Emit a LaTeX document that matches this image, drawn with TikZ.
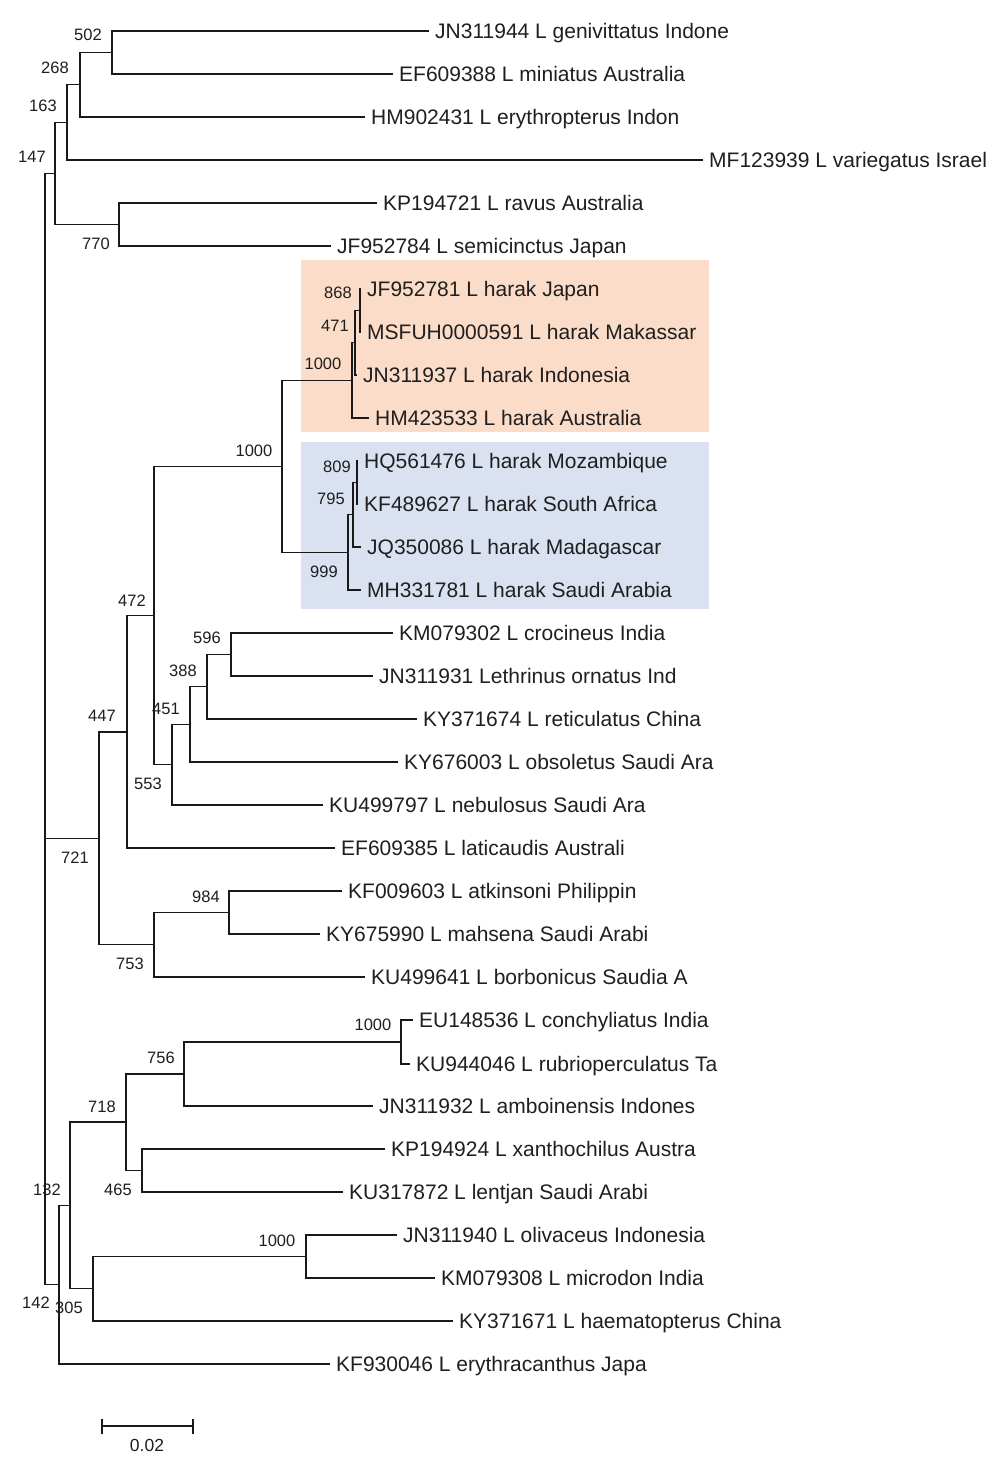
\documentclass[tikz,border=0pt]{standalone}
\usepackage{fontspec}
\setmainfont{Liberation Sans}
\begin{document}
\begin{tikzpicture}[x=1pt,y=-1pt,
  br/.style={draw=black!90, line width=1.45pt},
  leaf/.style={anchor=west, inner xsep=6pt, inner ysep=0pt, text height=15pt, text depth=0pt, font=\fontsize{21}{21}\selectfont, text=black!88},
  bs/.style={inner sep=0pt, text height=11.5pt, text depth=0pt, font=\fontsize{16.5}{16.5}\selectfont, text=black!88}]
\definecolor{orbox}{RGB}{250,220,201}
\definecolor{blbox}{RGB}{218,226,242}
\useasboundingbox[fill=white] (0,0) rectangle (1000,1465);
% clade boxes
\fill[orbox] (301,260) rectangle (709,432);
\fill[blbox] (301,442) rectangle (709,609);
% leaves
\node[leaf] (t0) at (429,31) {JN311944 L genivittatus Indone};
\node[leaf] (t1) at (393,74) {EF609388 L miniatus Australia};
\node[leaf] (t2) at (365,117) {HM902431 L erythropterus Indon};
\node[leaf] (t3) at (703,160) {MF123939 L variegatus Israel};
\node[leaf] (t4) at (377,203) {KP194721 L ravus Australia};
\node[leaf] (t5) at (331,246) {JF952784 L semicinctus Japan};
\node[leaf] (t6) at (361,289) {JF952781 L harak Japan};
\node[leaf] (t7) at (361,332) {MSFUH0000591 L harak Makassar};
\node[leaf] (t8) at (357,375) {JN311937 L harak Indonesia};
\node[leaf] (t9) at (369,418) {HM423533 L harak Australia};
\node[leaf] (t10) at (358,461) {HQ561476 L harak Mozambique};
\node[leaf] (t11) at (358,504) {KF489627 L harak South Africa};
\node[leaf] (t12) at (361,547) {JQ350086 L harak Madagascar};
\node[leaf] (t13) at (361,590) {MH331781 L harak Saudi Arabia};
\node[leaf] (t14) at (393,633) {KM079302 L crocineus India};
\node[leaf] (t15) at (373,676) {JN311931 Lethrinus ornatus Ind};
\node[leaf] (t16) at (417,719) {KY371674 L reticulatus China};
\node[leaf] (t17) at (398,762) {KY676003 L obsoletus Saudi Ara};
\node[leaf] (t18) at (323,805) {KU499797 L nebulosus Saudi Ara};
\node[leaf] (t19) at (335,848) {EF609385 L laticaudis Australi};
\node[leaf] (t20) at (342,891) {KF009603 L atkinsoni Philippin};
\node[leaf] (t21) at (320,934) {KY675990 L mahsena Saudi Arabi};
\node[leaf] (t22) at (365,977) {KU499641 L borbonicus Saudia A};
\node[leaf] (t23) at (413,1020) {EU148536 L conchyliatus India};
\node[leaf] (t24) at (410,1064) {KU944046 L rubrioperculatus Ta};
\node[leaf] (t25) at (373,1106) {JN311932 L amboinensis Indones};
\node[leaf] (t26) at (385,1149) {KP194924 L xanthochilus Austra};
\node[leaf] (t27) at (343,1192) {KU317872 L lentjan Saudi Arabi};
\node[leaf] (t28) at (397,1235) {JN311940 L olivaceus Indonesia};
\node[leaf] (t29) at (435,1278) {KM079308 L microdon India};
\node[leaf] (t30) at (453,1321) {KY371671 L haematopterus China};
\node[leaf] (t31) at (330,1364) {KF930046 L erythracanthus Japa};
% internal nodes
\coordinate (n502) at (112,52.5);
\coordinate (n268) at (80,84.75);
\coordinate (n163) at (67,122.4);
\coordinate (n770) at (119,224.5);
\coordinate (n147) at (55,173.4);
\coordinate (n868) at (360,310.5);
\coordinate (n471) at (355,342.75);
\coordinate (n1000o) at (352,380.4);
\coordinate (n809) at (357,482.5);
\coordinate (n795) at (353,514.75);
\coordinate (n999) at (348,552.4);
\coordinate (n1000b) at (282,466.4);
\coordinate (n596) at (231,654.5);
\coordinate (n388) at (207,686.75);
\coordinate (n451) at (190,724.4);
\coordinate (n553) at (172,764.7);
\coordinate (n472) at (154,615.5);
\coordinate (n447) at (127,731.8);
\coordinate (n984) at (229,912.5);
\coordinate (n753) at (154,944.75);
\coordinate (n721) at (99,838.3);
\coordinate (n1000c) at (401,1042);
\coordinate (n756) at (184,1074);
\coordinate (n465) at (142,1170.5);
\coordinate (n718) at (126,1122.2);
\coordinate (n1000d) at (306,1256.5);
\coordinate (n305) at (93,1288.75);
\coordinate (n132) at (70,1205.5);
\coordinate (n142) at (59,1284.7);
\coordinate (rbot) at (45,1284.7);
% branches
\draw[br] (t0.west) -| (n502) |- (t1.west);
\draw[br] (n502) -| (n268) |- (t2.west);
\draw[br] (n268) -| (n163) |- (t3.west);
\draw[br] (t4.west) -| (n770) |- (t5.west);
\draw[br] (n163) -| (n147) |- (n770);
\draw[br] (t6.west) -| (n868) |- (t7.west);
\draw[br] (n868) -| (n471) |- (t8.west);
\draw[br] (n471) -| (n1000o) |- (t9.west);
\draw[br] (t10.west) -| (n809) |- (t11.west);
\draw[br] (n809) -| (n795) |- (t12.west);
\draw[br] (n795) -| (n999) |- (t13.west);
\draw[br] (n1000o) -| (n1000b) |- (n999);
\draw[br] (t14.west) -| (n596) |- (t15.west);
\draw[br] (n596) -| (n388) |- (t16.west);
\draw[br] (n388) -| (n451) |- (t17.west);
\draw[br] (n451) -| (n553) |- (t18.west);
\draw[br] (n1000b) -| (n472) |- (n553);
\draw[br] (n472) -| (n447) |- (t19.west);
\draw[br] (t20.west) -| (n984) |- (t21.west);
\draw[br] (n984) -| (n753) |- (t22.west);
\draw[br] (n447) -| (n721) |- (n753);
\draw[br] (t23.west) -| (n1000c) |- (t24.west);
\draw[br] (n1000c) -| (n756) |- (t25.west);
\draw[br] (t26.west) -| (n465) |- (t27.west);
\draw[br] (n756) -| (n718) |- (n465);
\draw[br] (t28.west) -| (n1000d) |- (t29.west);
\draw[br] (n1000d) -| (n305) |- (t30.west);
\draw[br] (n718) -| (n132) |- (n305);
\draw[br] (n132) -| (n142) |- (t31.west);
\draw[br] (n147) -| (rbot) -- (n142);
\draw[br] (n721) -- (n721 -| rbot);
% bootstrap values
\node[bs] (b502) at (88,35) {502};
\node[bs] (b268) at (55,68) {268};
\node[bs] (b163) at (43,106) {163};
\node[bs] (b147) at (32,157) {147};
\node[bs] (b770) at (96,244) {770};
\node[bs] (b868) at (338,293) {868};
\node[bs] (b471) at (335,326) {471};
\node[bs] (b1000o) at (323,364) {1000};
\node[bs] (b1000b) at (254,451) {1000};
\node[bs] (b809) at (337,467) {809};
\node[bs] (b795) at (331,499) {795};
\node[bs] (b999) at (324,572) {999};
\node[bs] (b472) at (132,601) {472};
\node[bs] (b596) at (207,638) {596};
\node[bs] (b388) at (183,671) {388};
\node[bs] (b451) at (166,709) {451};
\node[bs] (b447) at (102,716) {447};
\node[bs] (b553) at (148,784) {553};
\node[bs] (b721) at (75,858) {721};
\node[bs] (b984) at (206,897) {984};
\node[bs] (b753) at (130,964) {753};
\node[bs] (b1000c) at (373,1025) {1000};
\node[bs] (b756) at (161,1058) {756};
\node[bs] (b718) at (102,1107) {718};
\node[bs] (b132) at (47,1190) {132};
\node[bs] (b465) at (118,1190) {465};
\node[bs] (b1000d) at (277,1241) {1000};
\node[bs] (b142) at (36,1303) {142};
\node[bs] (b305) at (69,1308) {305};
% scale bar
\coordinate (sbl) at (102,1426);
\coordinate (sbr) at (193,1426);
\draw[draw=black!90, line width=1.3pt] (sbl) -- (sbr);
\draw[draw=black!90, line width=1.3pt] ([yshift=-8pt]sbl) -- ([yshift=7pt]sbl);
\draw[draw=black!90, line width=1.3pt] ([yshift=-8pt]sbr) -- ([yshift=7pt]sbr);
\node[bs, font=\fontsize{17.5}{17.5}\selectfont, text height=12.5pt] (sblab) at (147,1445) {0.02};
\end{tikzpicture}
\end{document}
